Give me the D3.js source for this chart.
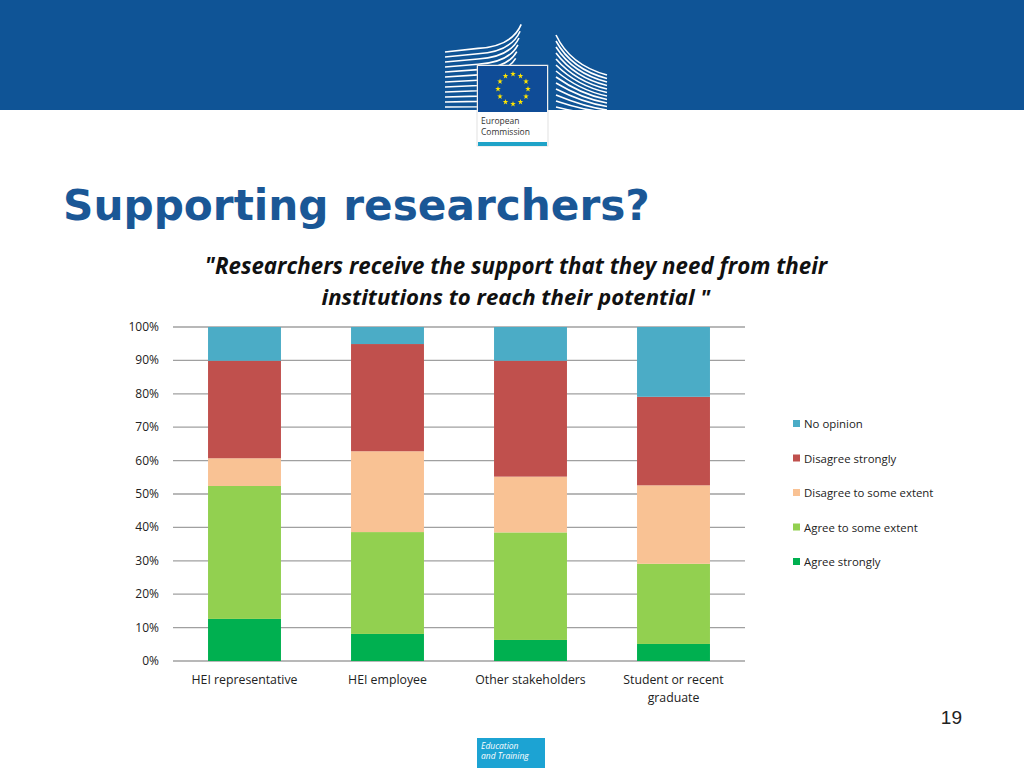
<!DOCTYPE html>
<head>
    <meta charset="utf-8">
    <title>Supporting researchers?</title>
    <script src="https://d3js.org/d3.v7.min.js"></script>
    <style>
        body { margin: 0; background: #fff; }
        svg { display: block; }
        .lbl { font-family: "Open Sans", Lato, sans-serif; fill: #222; }
    </style>
</head>
<body>
    <div id="container"></div>
    <script>
        //------------------------DATA------------------------//
        var categories = ["HEI representative", "HEI employee", "Other stakeholders", "Student or recent graduate"];
        var seriesNames = ["Agree strongly", "Agree to some extent", "Disagree to some extent", "Disagree strongly", "No opinion"];
        var seriesColors = ["#00B050", "#92D050", "#F9C294", "#C0504D", "#4BACC6"];
        var agreeStrongly = [12.6, 8.1, 6.3, 5.1];
        var agreeSome = [39.8, 30.5, 32.2, 24.0];
        var disagreeSome = [8.3, 24.2, 16.7, 23.5];
        var disagreeStrongly = [29.2, 32.1, 34.7, 26.5];
        var noOpinion = [10.1, 5.1, 10.1, 20.9];
        var yTicks = [0, 10, 20, 30, 40, 50, 60, 70, 80, 90, 100];

        var W = 1024, H = 768;
        var svg = d3.select("#container").append("svg").attr("width", W).attr("height", H);

        // fit text to a given width
        function fit(sel, target) {
            var len = sel.node().getComputedTextLength();
            var fs = parseFloat(sel.attr("font-size"));
            sel.attr("font-size", fs * target / len);
        }

        //------------------------HEADER------------------------//
        svg.append("rect").attr("width", W).attr("height", 110).attr("fill", "#0F5496");

        // building lines left
        var lb = svg.append("g").attr("fill", "none").attr("stroke", "#fff").attr("stroke-width", 1.6);
        for (var i = 0; i < 13; i++) {
            var yy = 112 - i * 5.3;
            lb.append("path").attr("d", "M445," + (yy + i * 0.3) + " L478," + yy + " Q" + (500 + i) + "," + (yy - 2) + " " + (508 + i * 1.1) + "," + (yy - 6 - i * 1.5));
        }
        // building lines right
        var rb = svg.append("g").attr("fill", "none").attr("stroke", "#fff").attr("stroke-width", 1.6);
        for (var j = 0; j < 13; j++) {
            var yr = 35 + j * 6;
            rb.append("path").attr("d", "M556," + (yr) + " Q" + (570 + j * 1.5) + "," + (yr + 30 - j * 1.8) + " 607," + (yr + 40 - j * 2.5 > 112 ? 112 : yr + 40 - j * 2.5));
        }
        rb.append("line").attr("x1", 556).attr("x2", 607).attr("y1", 112).attr("y2", 112);

        // logo box
        svg.append("rect").attr("x", 477).attr("y", 65).attr("width", 71).attr("height", 81).attr("fill", "#fff").attr("stroke", "#ccc").attr("stroke-width", 0.6);
        svg.append("rect").attr("x", 478).attr("y", 66).attr("width", 69).attr("height", 46).attr("fill", "#0F4C97");
        svg.append("rect").attr("x", 478).attr("y", 142).attr("width", 69).attr("height", 4).attr("fill", "#1FA3C8");
        var star = d3.symbol().type(d3.symbolStar).size(10);
        for (var k = 0; k < 12; k++) {
            var a = k * Math.PI / 6;
            svg.append("path").attr("d", star())
                .attr("transform", "translate(" + (513 + 15 * Math.sin(a)) + "," + (89 - 15 * Math.cos(a)) + ")")
                .attr("fill", "#FFE500");
        }
        svg.append("text").attr("x", 481).attr("y", 124).attr("font-family", "Open Sans, sans-serif").attr("font-size", 8.5).attr("fill", "#333").text("European");
        svg.append("text").attr("x", 481).attr("y", 135).attr("font-family", "Open Sans, sans-serif").attr("font-size", 8.5).attr("fill", "#333").text("Commission");

        //------------------------TITLES------------------------//
        var title = svg.append("text").attr("x", 63).attr("y", 220)
            .attr("font-family", "DejaVu Sans, Verdana, sans-serif").attr("font-weight", "bold")
            .attr("font-size", 40).attr("fill", "#1A5796").text("Supporting researchers?");
        fit(title, 587);

        var s1 = svg.append("text").attr("x", 516).attr("y", 274).attr("text-anchor", "middle")
            .attr("font-family", "Open Sans, sans-serif").attr("font-weight", "bold").attr("font-style", "italic")
            .attr("font-size", 20).attr("fill", "#111")
            .text("\"Researchers receive the support that they need from their");
        fit(s1, 623);
        var s2 = svg.append("text").attr("x", 516).attr("y", 305).attr("text-anchor", "middle")
            .attr("font-family", "Open Sans, sans-serif").attr("font-weight", "bold").attr("font-style", "italic")
            .attr("font-size", 20).attr("fill", "#111")
            .text("institutions to reach their potential \"");
        fit(s2, 389);

        //------------------------CHART------------------------//
        var plot = { left: 173, right: 745, top: 327, bottom: 661 };
        var x = d3.scaleBand().domain(categories).range([plot.left, plot.right]).paddingInner(0.49).paddingOuter(0.245);
        var y = d3.scaleLinear().domain([0, 100]).range([plot.bottom, plot.top]);

        var rows = categories.map(function (c, i) {
            return {
                cat: c,
                "Agree strongly": agreeStrongly[i],
                "Agree to some extent": agreeSome[i],
                "Disagree to some extent": disagreeSome[i],
                "Disagree strongly": disagreeStrongly[i],
                "No opinion": noOpinion[i]
            };
        });
        var stacked = d3.stack().keys(seriesNames)(rows);

        // gridlines
        svg.append("g").selectAll("line").data(yTicks).enter().append("line")
            .attr("x1", plot.left).attr("x2", plot.right)
            .attr("y1", function (d) { return y(d); }).attr("y2", function (d) { return y(d); })
            .attr("stroke", "#A0A0A0").attr("stroke-width", 1.3);

        // y labels
        svg.append("g").selectAll("text").data(yTicks).enter().append("text")
            .attr("class", "lbl").attr("x", 159).attr("y", function (d) { return y(d) + 4; })
            .attr("text-anchor", "end").attr("font-size", 12).text(function (d) { return d + "%"; });

        // bars
        svg.append("g").selectAll("g").data(stacked).enter().append("g")
            .attr("fill", function (d, i) { return seriesColors[i]; })
            .selectAll("rect").data(function (d) { return d; }).enter().append("rect")
            .attr("x", function (d) { return x(d.data.cat); })
            .attr("width", x.bandwidth())
            .attr("y", function (d) { return y(d[1]); })
            .attr("height", function (d) { return y(d[0]) - y(d[1]); });

        // x labels
        var xl = svg.append("g").selectAll("text").data(categories).enter().append("text")
            .attr("class", "lbl").attr("text-anchor", "middle").attr("font-size", 12.3)
            .attr("x", function (d) { return x(d) + x.bandwidth() / 2; })
            .attr("y", 684);
        xl.each(function (d) {
            var t = d3.select(this);
            var parts = d === "Student or recent graduate" ? ["Student or recent", "graduate"] : [d];
            parts.forEach(function (p, i) {
                t.append("tspan").attr("x", x(d) + x.bandwidth() / 2).attr("dy", i === 0 ? 0 : 18).text(p);
            });
        });

        //------------------------LEGEND------------------------//
        var legendOrder = seriesNames.slice().reverse();
        var lg = svg.append("g").selectAll("g").data(legendOrder).enter().append("g")
            .attr("transform", function (d, i) { return "translate(793," + (424 + i * 34.5) + ")"; });
        lg.append("rect").attr("x", 0).attr("y", -4).attr("width", 7).attr("height", 7)
            .attr("fill", function (d) { return seriesColors[seriesNames.indexOf(d)]; });
        lg.append("text").attr("class", "lbl").attr("x", 11).attr("y", 4).attr("font-size", 11.4)
            .text(function (d) { return d; });

        //------------------------FOOTER------------------------//
        svg.append("text").attr("x", 962).attr("y", 724).attr("text-anchor", "end")
            .attr("font-family", "Liberation Sans, Arial, sans-serif").attr("font-size", 19).attr("fill", "#222").text("19");
        svg.append("rect").attr("x", 477).attr("y", 738).attr("width", 68).attr("height", 30).attr("fill", "#1CA3D3");
        svg.append("text").attr("x", 481).attr("y", 749).attr("font-family", "Open Sans, sans-serif")
            .attr("font-style", "italic").attr("font-size", 8.5).attr("fill", "#fff").text("Education");
        svg.append("text").attr("x", 481).attr("y", 759).attr("font-family", "Open Sans, sans-serif")
            .attr("font-style", "italic").attr("font-size", 8.5).attr("fill", "#fff").text("and Training");
    </script>
</body>
